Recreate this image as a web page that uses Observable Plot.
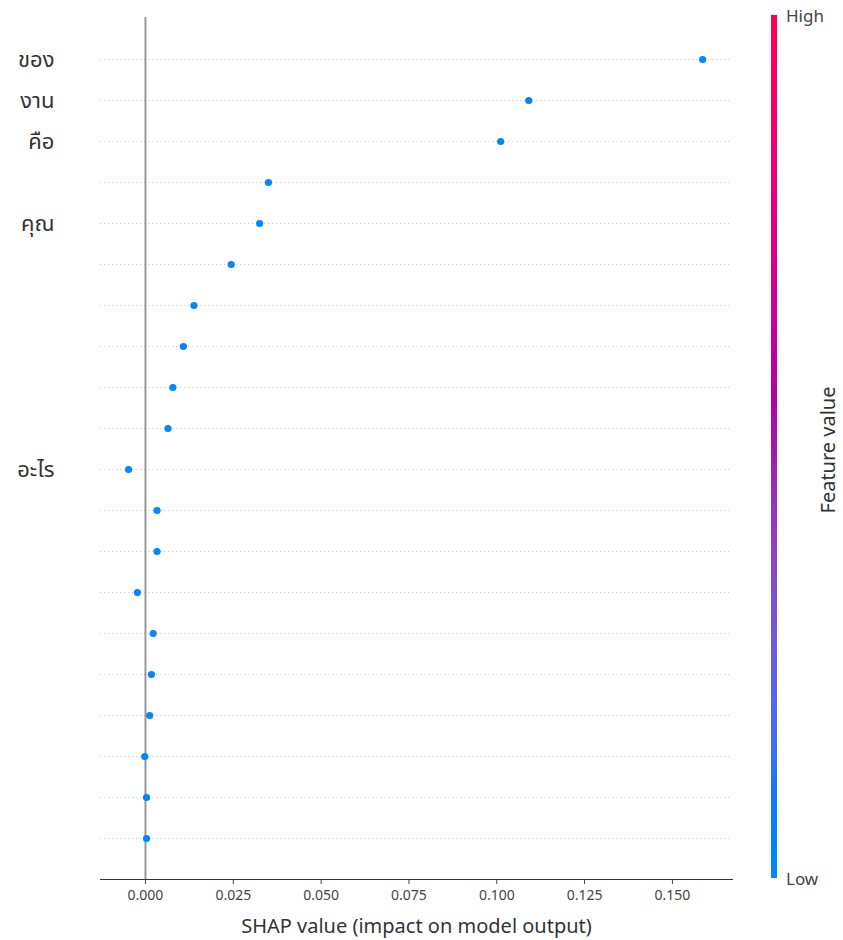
<!DOCTYPE html>
<html>
<head>
<meta charset="utf-8">
<script src="https://cdn.jsdelivr.net/npm/d3@7"></script>
<script src="https://cdn.jsdelivr.net/npm/@observablehq/plot@0.6"></script>
<style>
  html, body { margin: 0; padding: 0; background: #fff; }
  #wrap { position: relative; width: 843px; height: 940px; font-family: "Noto Sans Thai", "Loma", "Noto Sans", "Open Sans", sans-serif; }
  #cbar { position: absolute; left: 771px; top: 15px; width: 6px; height: 863px; }
  .cbl { position: absolute; font-size: 17px; color: #444; line-height: 1; }
  #fv { position: absolute; font-size: 20px; color: #333; transform: translate(-50%, -50%) rotate(-90deg); white-space: nowrap; }
</style>
</head>
<body>
<div id="wrap"></div>
<script>
// Feature names (top to bottom); unlabeled rows are blank tokens
const features = ["ของ", "งาน", "คือ", "", "คุณ", "", "", "", "", "", "อะไร", "", "", "", "", "", "", "", "", ""];
// SHAP value of each row
const shapValues = [0.1586, 0.1091, 0.1011, 0.0350, 0.0325, 0.0244, 0.0138, 0.0108, 0.0078, 0.0064,
                    -0.0048, 0.0033, 0.0033, -0.0023, 0.0022, 0.0017, 0.0012, -0.0002, 0.0003, 0.0003];
// Feature value (0 = low, 1 = high)
const featureValues = [0, 0, 0, 0, 0, 0, 0, 0, 0, 0, 0, 0, 0, 0, 0, 0, 0, 0, 0, 0];
const xTicks = [0, 0.025, 0.05, 0.075, 0.1, 0.125, 0.15];

// SHAP red_blue colormap in LCh space: blue (L54,C70,h267°) -> L40 mid -> red (L54,C90,h380°)
function interp(t) {
  const l = t < 0.5 ? 54 + (40 - 54) * (t / 0.5) : 40 + (54 - 40) * ((t - 0.5) / 0.5);
  const c = 70 + (90 - 70) * t;
  const h = 266.93 + (380.32 - 266.93) * t;
  return d3.hcl(h, c, l).formatHex();
}

const rows = features.map((f, i) => ({i, f, shap: shapValues[i], fv: featureValues[i]}));

const chart = Plot.plot({
  width: 843,
  height: 940,
  marginLeft: 100,
  marginRight: 111,
  marginTop: 17,
  marginBottom: 61,
  style: {fontFamily: '"Noto Sans Thai", "Loma", "Noto Sans", "Open Sans", sans-serif', background: "#fff"},
  x: {domain: [-0.0128, 0.1671]},
  y: {type: "point", domain: d3.range(features.length), padding: 1},
  color: {type: "linear", domain: [0, 1], interpolate: () => interp},
  marks: [
    Plot.ruleY(rows, {y: "i", x1: -0.0128, x2: 0.1671, stroke: "#cccccc", strokeWidth: 1, strokeDasharray: "1.2,2.8"}),
    Plot.ruleX([0], {stroke: "#999999", strokeWidth: 2}),
    Plot.frame({anchor: "bottom", stroke: "#333333", strokeWidth: 1}),
    Plot.axisX({ticks: xTicks, tickFormat: d3.format(".3f"), tickSize: 5, tickPadding: 6, fontSize: 14, color: "#444444",
      label: "SHAP value (impact on model output)", labelAnchor: "center", labelArrow: "none", labelOffset: 53}),
    Plot.axisY({tickSize: 0, tickPadding: 46, tickFormat: i => features[i], fontSize: 22, color: "#333333", label: null}),
    Plot.dot(rows, {x: "shap", y: "i", r: 3.6, fill: d => d.fv, stroke: null})
  ]
});

const wrap = document.getElementById("wrap");
wrap.appendChild(chart);
chart.querySelectorAll("g[aria-label='x-axis label'] text").forEach(t => { t.setAttribute("font-size", "20"); t.setAttribute("fill", "#333"); });

// Vertical color bar legend
const stops = d3.range(0, 1.0001, 0.05).map(t => `${interp(t)} ${(t * 100).toFixed(0)}%`).join(", ");
const cbar = document.createElement("div");
cbar.id = "cbar";
cbar.style.background = `linear-gradient(to top, ${stops})`;
wrap.appendChild(cbar);
const hi = document.createElement("div"); hi.className = "cbl"; hi.textContent = "High";
hi.style.left = "786px"; hi.style.top = "9px"; wrap.appendChild(hi);
const lo = document.createElement("div"); lo.className = "cbl"; lo.textContent = "Low";
lo.style.left = "786px"; lo.style.top = "872px"; wrap.appendChild(lo);
const fv = document.createElement("div"); fv.id = "fv"; fv.textContent = "Feature value";
fv.style.left = "829px"; fv.style.top = "450px"; wrap.appendChild(fv);
</script>
</body>
</html>
